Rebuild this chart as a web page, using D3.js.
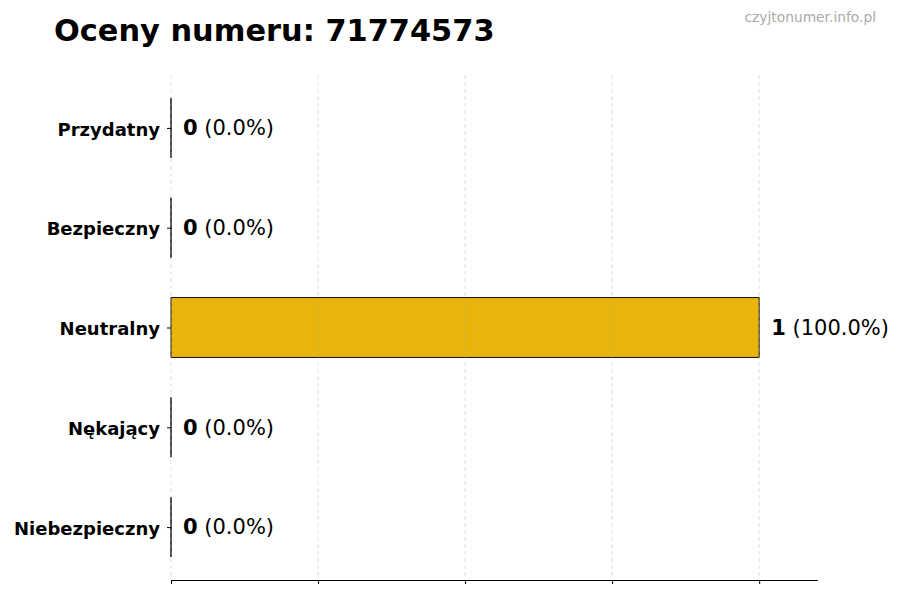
<!DOCTYPE html>
<html>
<head>
<meta charset="utf-8">
<script src="https://cdn.jsdelivr.net/npm/d3@7"></script>
<style>
  body { margin: 0; background: #fff; }
  svg { font-family: "DejaVu Sans", sans-serif; }
</style>
</head>
<body>
<svg id="chart" width="900" height="600"></svg>
<script>
// Data, bottom to top as in the source plot
const categories = ['Niebezpieczny', 'Nękający', 'Neutralny', 'Bezpieczny', 'Przydatny'];
const counts = [0, 0, 1, 0, 0];
const percents = ['0.0%', '0.0%', '100.0%', '0.0%', '0.0%'];
const xTicks = [0, 0.25, 0.5, 0.75, 1];

const phoneNumber = '71774573';
const barColor = '#e9b50b';

const svg = d3.select('#chart');

const margin = {top: 75, right: 82, bottom: 20, left: 171};
const plotBottom = 580;

// Scales: x in counts, y in bar index (matplotlib style limits)
const xScale = d3.scaleLinear()
    .domain([0, 1.1])
    .range([margin.left, 900 - margin.right]);

const yScale = d3.scaleLinear()
    .domain([-0.53, 4.53])
    .range([plotBottom, margin.top]);

const barHeight = 0.6;

// Bars as paths so zero-width bars still show their edge
svg.append('g')
  .selectAll('path')
  .data(counts)
  .join('path')
    .attr('d', (d, i) => {
      const x0 = xScale(0), x1 = xScale(d);
      const y0 = yScale(i + barHeight / 2), y1 = yScale(i - barHeight / 2);
      return `M${x0},${y0}H${x1}V${y1}H${x0}Z`;
    })
    .attr('fill', barColor)
    .attr('stroke', '#111')
    .attr('stroke-width', 1);

// Vertical dashed grid
svg.append('g')
  .selectAll('line')
  .data(xTicks)
  .join('line')
    .attr('x1', d => xScale(d))
    .attr('x2', d => xScale(d))
    .attr('y1', margin.top)
    .attr('y2', plotBottom)
    .attr('stroke', '#b0b0b0')
    .attr('stroke-opacity', 0.5)
    .attr('stroke-width', 0.8)
    .attr('stroke-dasharray', '4,3');

// Bottom axis, no labels
const xAxis = d3.axisBottom(xScale)
    .tickValues(xTicks)
    .tickSize(4)
    .tickFormat('');

const xAxisG = svg.append('g')
    .attr('transform', `translate(0,${plotBottom})`)
    .call(xAxis);
xAxisG.select('.domain')
    .attr('d', `M${xScale(0)},0.5H${xScale(1.1)}`)
    .attr('stroke', '#000');

// Left axis ticks only, with category labels
const yAxis = d3.axisLeft(yScale)
    .tickValues(d3.range(categories.length))
    .tickSize(4)
    .tickPadding(7)
    .tickFormat(i => categories[i]);

const yAxisG = svg.append('g')
    .attr('transform', `translate(${xScale(0)},0)`)
    .call(yAxis);
yAxisG.select('.domain').remove();
yAxisG.selectAll('text')
    .attr('font-family', '"DejaVu Sans", sans-serif')
    .attr('font-size', 18)
    .attr('font-weight', 'bold')
    .attr('dy', '0.4em')
    .attr('fill', '#000');

// Value labels
const labels = svg.append('g')
  .selectAll('text')
  .data(counts)
  .join('text')
    .attr('x', d => xScale(d) + 12)
    .attr('y', (d, i) => yScale(i))
    .attr('dy', '0.35em')
    .attr('font-size', 21)
    .attr('fill', '#000');

labels.append('tspan')
    .attr('font-weight', 'bold')
    .text(d => d);
labels.append('tspan')
    .text((d, i) => ` (${percents[i]})`);

// Title
svg.append('text')
    .attr('x', 54)
    .attr('y', 41)
    .attr('font-size', 30.4)
    .attr('font-weight', 'bold')
    .attr('fill', '#000')
    .text(`Oceny numeru: ${phoneNumber}`);

// Watermark
svg.append('text')
    .attr('x', 876)
    .attr('y', 22)
    .attr('text-anchor', 'end')
    .attr('font-size', 13.8)
    .attr('fill', '#aaa')
    .text('czyjtonumer.info.pl');
</script>
</body>
</html>
